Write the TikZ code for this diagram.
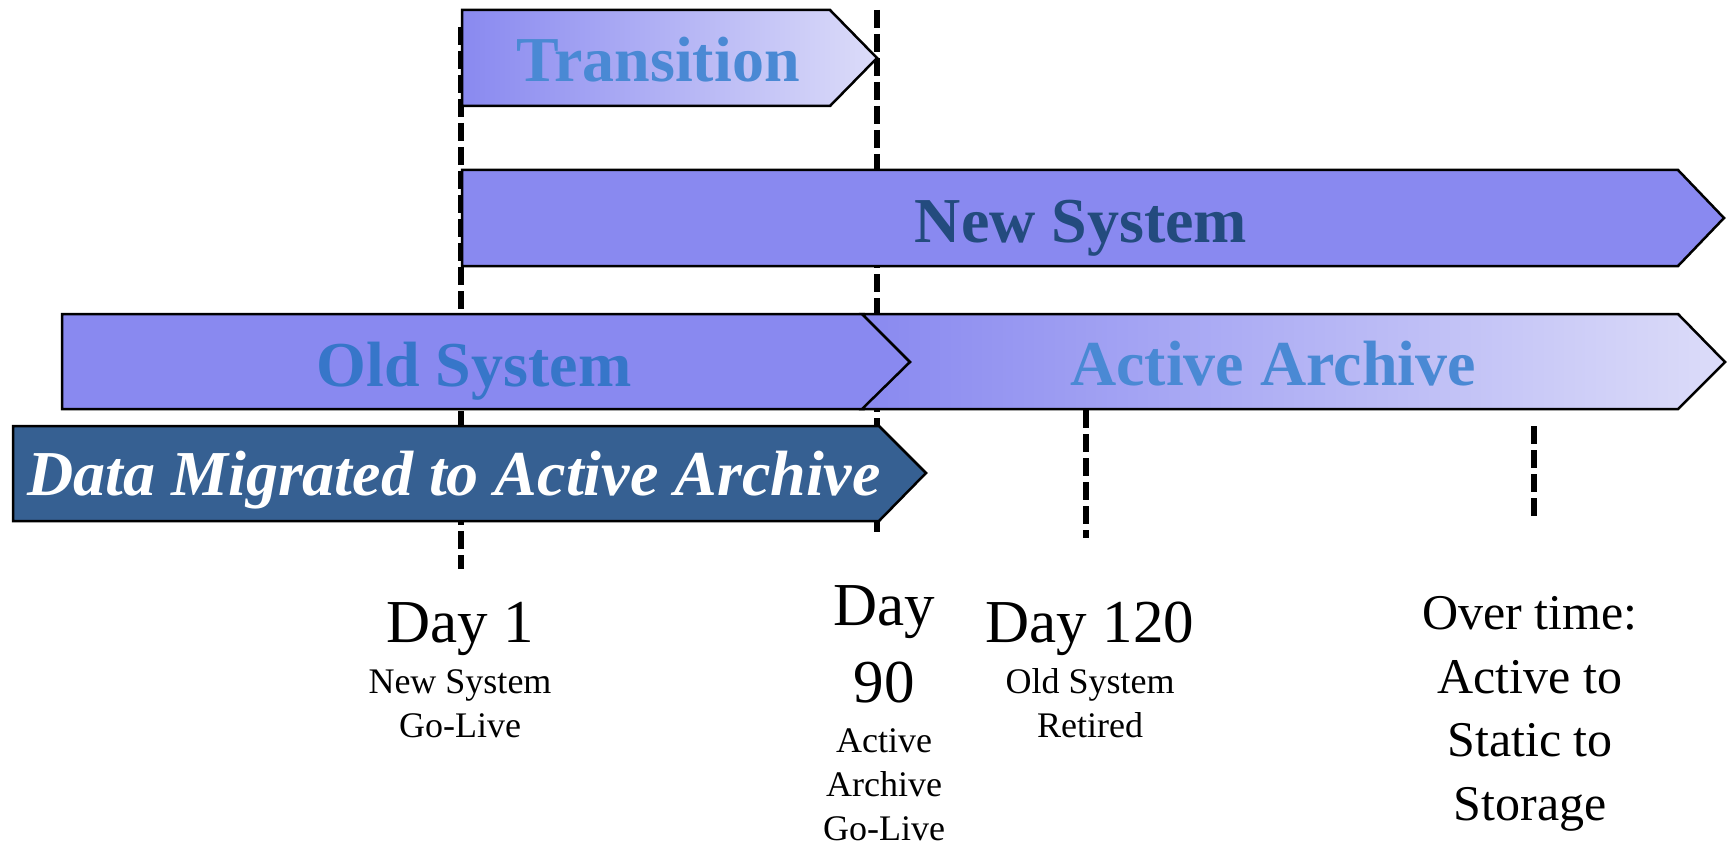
\documentclass[tikz,border=0pt]{standalone}
\usepackage{fontspec}
\setmainfont{Liberation Serif}

\definecolor{barfill}{RGB}{137,137,240}
\definecolor{barlight}{RGB}{220,220,249}
\definecolor{migfill}{RGB}{54,96,146}
\definecolor{labblue}{RGB}{74,137,212}
\definecolor{oldblue}{RGB}{55,118,201}
\definecolor{newblue}{RGB}{35,75,126}

\begin{document}
\begin{tikzpicture}[x=1pt,y=-1pt,
  bar/.style={draw=black,line width=2.5pt,line join=miter},
  barname/.style={font=\fontsize{64}{64}\selectfont\bfseries,anchor=base,inner sep=0pt},
  marker/.style={line width=6pt,dash pattern=on 18pt off 6pt},
  daylabel/.style={font=\fontsize{61}{77}\selectfont,align=center,anchor=base,inner sep=0pt},
  sublabel/.style={font=\fontsize{36}{44}\selectfont,align=center,anchor=base,inner sep=0pt}]
  \useasboundingbox (0,0) rectangle (1731,845);

  \def\tip{47}% tip length
  \def\xa{462}% day 1
  \def\xb{877}% day 90
  \def\xc{1086}% day 120
  \def\xd{1534}% over time
  %
  % milestone lines, behind the bars:
  \coordinate (d1top) at (\xa-1,27);
  \coordinate (d1bot) at (\xa-1,569);
  \coordinate (d90top) at (\xb,10);
  \coordinate (d90bot) at (\xb,532);
  \coordinate (d120top) at (\xc,410);
  \coordinate (d120bot) at (\xc,538);
  \coordinate (dovtop) at (\xd,426);
  \coordinate (dovbot) at (\xd,516);
  \draw[marker] (d1top) -- (d1bot);
  \draw[marker] (d90top) -- (d90bot);
  \draw[marker] (d120top) -- (d120bot);
  \draw[marker] (dovtop) -- (dovbot);
  %
  % bars:
  \draw[bar,left color=barfill,right color=barlight]
    (\xa,10) -- (\xb-\tip,10) -- (\xb,58) -- (\xb-\tip,106) -- (\xa,106) -- cycle;
  \draw[bar,fill=barfill]
    (\xa,170) -- (1678,170) -- (1724,218) -- (1678,266) -- (\xa,266) -- cycle;
  \draw[bar,fill=barfill]
    (62,314) -- (864,314) -- (910,362) -- (864,409) -- (62,409) -- cycle;
  \draw[bar,left color=barfill,right color=barlight]
    (862,314) -- (1678,314) -- (1725,362) -- (1678,409) -- (862,409) -- (910,362) -- cycle;
  \draw[bar,fill=migfill]
    (13,426) -- (879,426) -- (926,473) -- (879,521) -- (13,521) -- cycle;
  %
  % bar names:
  \node[barname,text=labblue] (trans) at (658,82) {Transition};
  \node[barname,text=newblue] (newsys) at (1081,242) {New System};
  \node[barname,text=oldblue] (oldsys) at (474,386) {Old System};
  \node[barname,text=labblue] (archive) at (1273,385) {Active Archive};
  \node[barname,text=white,font=\fontsize{64}{64}\selectfont\bfseries\itshape]
    (migrated) at (454,495) {Data Migrated to Active Archive};
  %
  % milestones (base = last line):
  \node[daylabel] (day1) at (460,642) {Day 1};
  \node[sublabel] (day1sub) at (460,737) {New System\\Go-Live};
  \node[daylabel] (day90) at (884,702) {Day\\90};
  \node[sublabel] (day90sub) at (884,840) {Active\\Archive\\Go-Live};
  \node[daylabel] (day120) at (1090,642) {Day 120};
  \node[sublabel] (day120sub) at (1090,737) {Old System\\Retired};
  \node[daylabel,font=\fontsize{50}{63.5}\selectfont] (overtime) at (1530,820)
    {Over time:\\Active to\\Static to\\Storage};
\end{tikzpicture}
\end{document}
